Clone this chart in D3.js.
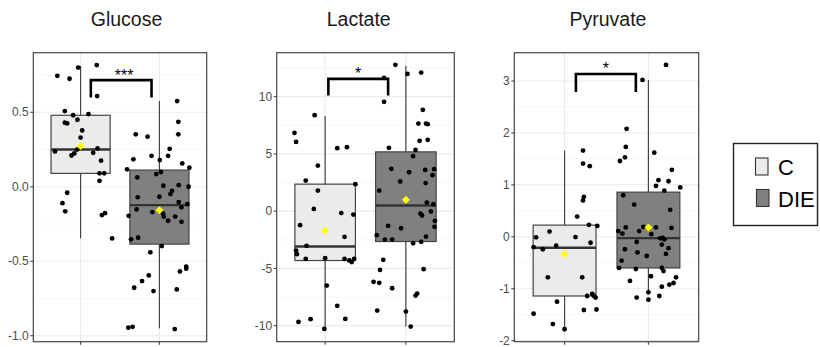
<!DOCTYPE html>
<html><head><meta charset="utf-8">
<script src="https://cdn.jsdelivr.net/npm/d3@7"></script>
<style>body{margin:0;background:#fff} svg{display:block} text{font-family:"Liberation Sans",Arial,sans-serif}</style>
</head><body><svg id="c" width="820" height="347"></svg>
<script>
const categories = ["C", "DIE"];
const panelTitles = ["Glucose", "Lactate", "Pyruvate"];
const legendLabels = ["C", "DIE"];

// y tick labels per panel
const glucoseTicks = [-1.0, -0.5, 0.0, 0.5];
const lactateTicks = [-10, -5, 0, 5, 10];
const pyruvateTicks = [-2, -1, 0, 1, 2, 3];

// box stats: [lower whisker, Q1, median, Q3, upper whisker]
const glucoseBoxC = [-0.346, 0.09, 0.25, 0.48, 0.81];
const glucoseBoxDIE = [-0.95, -0.385, -0.123, 0.112, 0.575];
const lactateBoxC = [-10.37, -4.31, -3.09, 2.36, 8.32];
const lactateBoxDIE = [-10.08, -2.65, 0.49, 5.18, 12.69];
const pyruvateBoxC = [-1.78, -1.14, -0.21, 0.225, 1.66];
const pyruvateBoxDIE = [-1.06, -0.60, -0.025, 0.86, 3.02];

// group means [C, DIE]
const glucoseMeans = [0.273, -0.157];
const lactateMeans = [-1.69, 0.99];
const pyruvateMeans = [-0.33, 0.18];

// significance labels
const glucoseSig = "***";
const lactateSig = "*";
const pyruvateSig = "*";
// bracket: [from (category units), to, top value, leg-end value]
const glucoseBracket = [0.13, 0.90, 0.716, 0.60];
const lactateBracket = [0.04, 0.78, 11.55, 10.1];
const pyruvateBracket = [0.135, 0.85, 3.135, 2.79];

// observations: [jitter (category units), value]
const glucoseC = [[-0.295,0.745],[-0.03,0.80],[-0.14,0.725],[0.205,0.817],[0.21,0.609],[-0.20,0.508],[-0.20,0.43],[-0.17,0.425],[-0.095,0.48],[-0.04,0.45],[0.10,0.488],[0.02,0.378],[0,0.33],[-0.325,0.237],[-0.045,0.25],[-0.08,0.224],[-0.115,0.21],[0.16,0.228],[0.215,0.258],[0.26,0.175],[0.24,0.09],[0.30,0.09],[0.24,0.04],[-0.17,-0.04],[-0.23,-0.11],[-0.195,-0.165],[0.27,-0.19],[0.31,-0.177],[0.40,-0.347]];
const glucoseDIE = [[0.225,0.575],[0.24,0.436],[0.24,0.352],[-0.30,0.352],[-0.15,0.336],[0.13,0.255],[-0.10,0.208],[0.11,0.208],[-0.33,0.184],[0.005,0.179],[0.29,0.157],[-0.41,0.117],[0.38,0.128],[0.02,0.099],[-0.04,0.085],[-0.28,0.063],[0.05,0.007],[0.245,0.011],[0.37,0.0],[0.16,-0.027],[0.14,-0.049],[0,-0.067],[-0.275,-0.071],[0.245,-0.103],[0.355,-0.116],[0.28,-0.138],[-0.29,-0.152],[-0.09,-0.17],[0.045,-0.179],[0.055,-0.2],[0.2,-0.2],[-0.39,-0.195],[0.11,-0.228],[0.28,-0.235],[-0.36,-0.353],[-0.27,-0.342],[0.03,-0.398],[-0.115,-0.44],[0.34,-0.537],[0.34,-0.55],[0.26,-0.568],[-0.135,-0.595],[-0.22,-0.633],[-0.32,-0.678],[-0.075,-0.70],[0.22,-0.689],[-0.395,-0.946],[-0.34,-0.94],[0.195,-0.955]];
const lactateC = [[-0.38,6.84],[-0.36,6.05],[-0.13,8.38],[-0.09,3.98],[0.15,5.5],[0.27,5.59],[-0.24,2.67],[0.375,2.36],[-0.09,1.8],[-0.14,0.2],[0.2,-0.17],[0.35,-0.3],[-0.31,-1.22],[0.24,-2.24],[-0.23,-3.03],[-0.36,-3.44],[-0.35,-3.76],[-0.24,-4.17],[0,-4.11],[0.24,-4.17],[0.30,-4.31],[0.33,-4.45],[0.36,-4.17],[0.02,-6.5],[0.15,-8.27],[-0.33,-9.67],[-0.18,-9.43],[0.25,-9.41],[-0.01,-10.28]];
const lactateDIE = [[-0.13,12.78],[0.02,11.99],[0.19,12.1],[-0.27,11.64],[-0.27,9.55],[0.21,8.85],[0.155,7.65],[0.25,7.65],[0.27,7.6],[0.17,6.14],[0.27,6.23],[-0.21,5.53],[0.12,5.35],[0.09,4.8],[-0.18,3.7],[0.04,3.4],[0.24,3.6],[0.35,3.67],[0.33,3.14],[-0.07,2.59],[0.245,2.45],[-0.33,1.8],[0.26,0.75],[0.34,0.61],[0.31,-0.03],[0.18,-0.21],[0.2,-0.38],[0.36,-0.85],[-0.22,-1.28],[-0.06,-1.49],[0.355,-1.37],[-0.36,-2.1],[-0.26,-2.48],[-0.17,-2.48],[0.25,-2.22],[0.09,-2.8],[0.19,-2.68],[-0.28,-4.25],[-0.32,-5.13],[0.22,-5.07],[-0.40,-6.17],[-0.33,-6.26],[-0.17,-6.73],[0.14,-7.2],[0.12,-7.37],[-0.355,-8.68],[0,-8.77],[0.06,-10.08]];
const pyruvateC = [[0.22,1.66],[0.22,1.41],[0.30,1.36],[0.23,0.77],[0.22,0.70],[0.15,0.39],[0.29,0.23],[0.39,0.21],[-0.34,-0.01],[-0.18,0.10],[0.13,-0.005],[-0.37,-0.20],[-0.26,-0.24],[-0.10,-0.17],[0.31,-0.115],[-0.20,-0.78],[0.21,-0.78],[0.27,-1.14],[0.33,-1.10],[0.35,-1.14],[0.37,-1.17],[-0.09,-1.25],[0.23,-1.41],[0.38,-1.40],[-0.37,-1.48],[-0.14,-1.68],[0,-1.78]];
const pyruvateDIE = [[0.21,3.31],[-0.07,3.02],[-0.26,2.08],[-0.27,1.73],[-0.28,1.53],[-0.34,1.46],[0.07,1.62],[0.28,1.29],[0.12,1.09],[0.24,1.07],[0.09,0.98],[0.38,0.95],[0.19,0.89],[-0.30,0.80],[-0.17,0.62],[0.26,0.52],[-0.36,0.11],[-0.31,0.06],[-0.27,0.18],[-0.11,0.11],[0.035,0.05],[0.09,0.18],[0.275,0.17],[-0.06,0.19],[0.14,-0.03],[0.17,-0.02],[0.19,-0.05],[-0.28,-0.24],[-0.14,-0.10],[-0.13,-0.30],[-0.02,-0.37],[0.16,-0.15],[0.24,-0.22],[0.21,-0.33],[-0.32,-0.46],[-0.35,-0.60],[-0.15,-0.62],[0.16,-0.60],[0.18,-0.66],[-0.22,-0.85],[0.03,-0.76],[0.33,-0.78],[0.30,-0.89],[0.25,-0.92],[0.16,-0.96],[0,-1.07],[-0.14,-1.17],[0,-1.21],[0.13,-1.14]];

const fills = ["#ebebeb", "#808080"];
const svg = d3.select("#c");
const yTop = 52.7, yBot = 341.7;

const panels = [
  {x0: 33.3, x1: 206.7, titleX: 126.5, domain: [-1.04, 0.90], ticks: glucoseTicks, fmt: d => d.toFixed(1),
   boxes: [glucoseBoxC, glucoseBoxDIE], means: glucoseMeans, pts: [glucoseC, glucoseDIE], br: glucoseBracket, sig: glucoseSig},
  {x0: 276.7, x1: 454.3, titleX: 358.7, domain: [-11.40, 13.84], ticks: lactateTicks, fmt: d => String(d),
   boxes: [lactateBoxC, lactateBoxDIE], means: lactateMeans, pts: [lactateC, lactateDIE], br: lactateBracket, sig: lactateSig},
  {x0: 514.3, x1: 698.7, titleX: 608, domain: [-2.02, 3.545], ticks: pyruvateTicks, fmt: d => String(d),
   boxes: [pyruvateBoxC, pyruvateBoxDIE], means: pyruvateMeans, pts: [pyruvateC, pyruvateDIE], br: pyruvateBracket, sig: pyruvateSig}
];

panels.forEach((p, i) => {
  const x = d3.scaleLinear().domain([-0.6, 1.6]).range([p.x0, p.x1]);
  const y = d3.scaleLinear().domain(p.domain).range([yBot, yTop]);
  const g = svg.append("g");
  const unit = x(1) - x(0);

  // title
  svg.append("text").attr("x", p.titleX).attr("y", 26).attr("text-anchor", "middle")
    .attr("font-size", 19.5).attr("fill", "#1a1a1a").text(panelTitles[i]);

  // grid
  const step = p.ticks[1] - p.ticks[0];
  const minors = [];
  for (let t = p.ticks[0] - step / 2; t <= p.ticks[p.ticks.length - 1] + step / 2 + 1e-9; t += step) {
    if (t > p.domain[0] && t < p.domain[1]) minors.push(t);
  }
  g.selectAll(".mn").data(minors).join("line")
    .attr("x1", p.x0).attr("x2", p.x1).attr("y1", d => y(d)).attr("y2", d => y(d))
    .attr("stroke", "#f2f2f2").attr("stroke-width", 0.6);
  g.selectAll(".mj").data(p.ticks).join("line")
    .attr("x1", p.x0).attr("x2", p.x1).attr("y1", d => y(d)).attr("y2", d => y(d))
    .attr("stroke", "#ebebeb").attr("stroke-width", 1.1);
  g.selectAll(".vx").data(categories).join("line")
    .attr("x1", (d, k) => x(k)).attr("x2", (d, k) => x(k)).attr("y1", yTop).attr("y2", yBot)
    .attr("stroke", "#ebebeb").attr("stroke-width", 1.1);

  // boxes
  p.boxes.forEach((b, k) => {
    const cx = x(k), hw = unit * 0.375;
    g.append("line").attr("x1", cx).attr("x2", cx).attr("y1", y(b[0])).attr("y2", y(b[4]))
      .attr("stroke", "#444").attr("stroke-width", 1.2);
    g.append("rect").attr("x", cx - hw).attr("width", 2 * hw).attr("y", y(b[3])).attr("height", y(b[1]) - y(b[3]))
      .attr("fill", fills[k]).attr("stroke", "#444").attr("stroke-width", 1.2);
    g.append("line").attr("x1", cx - hw).attr("x2", cx + hw).attr("y1", y(b[2])).attr("y2", y(b[2]))
      .attr("stroke", "#333").attr("stroke-width", 2.4);
  });

  // points
  p.pts.forEach((arr, k) => {
    g.selectAll(null).data(arr).join("circle")
      .attr("cx", d => x(k + d[0])).attr("cy", d => y(d[1])).attr("r", 2.4).attr("fill", "#000");
  });

  // means (rotated square, like ggplot shape 18)
  g.selectAll(null).data(p.means).join("path")
    .attr("d", d3.symbol(d3.symbolSquare, 32))
    .attr("transform", (d, k) => `translate(${x(k)},${y(d)}) rotate(45)`).attr("fill", "#ffff00");

  // bracket
  const br = p.br;
  g.append("path")
    .attr("d", `M${x(br[0])},${y(br[3])}V${y(br[2])}H${x(br[1])}V${y(br[3])}`)
    .attr("fill", "none").attr("stroke", "#000").attr("stroke-width", 2.6);
  g.append("text").attr("x", (x(br[0]) + x(br[1])) / 2 + (p.sig.length > 1 ? 3 : 0)).attr("y", y(br[2]) + 0.5)
    .attr("text-anchor", "middle").attr("font-size", 16).attr("fill", "#000").text(p.sig);

  // frame
  g.append("rect").attr("x", p.x0).attr("y", yTop).attr("width", p.x1 - p.x0).attr("height", yBot - yTop)
    .attr("fill", "none").attr("stroke", "#444").attr("stroke-width", 1.2);

  // y axis ticks
  g.selectAll(".yt").data(p.ticks).join("line")
    .attr("x1", p.x0 - 3).attr("x2", p.x0).attr("y1", d => y(d)).attr("y2", d => y(d))
    .attr("stroke", "#444").attr("stroke-width", 1.1);
  g.selectAll(".yl").data(p.ticks).join("text")
    .attr("x", p.x0 - 4.5).attr("y", d => y(d)).attr("dy", "0.35em").attr("text-anchor", "end")
    .attr("font-size", 12).attr("fill", "#4d4d4d").text(p.fmt);
  // x axis ticks (no labels)
  g.selectAll(".xt").data(categories).join("line")
    .attr("x1", (d, k) => x(k)).attr("x2", (d, k) => x(k)).attr("y1", yBot).attr("y2", yBot + 3)
    .attr("stroke", "#444").attr("stroke-width", 1.1);
});

// legend
const lg = svg.append("g");
lg.append("rect").attr("x", 733.5).attr("y", 143.5).attr("width", 84).attr("height", 82)
  .attr("fill", "#fff").attr("stroke", "#222").attr("stroke-width", 1.4);
legendLabels.forEach((l, k) => {
  const yy = 158 + k * 31.5;
  lg.append("rect").attr("x", 755.5 + k).attr("y", yy).attr("width", 12.5).attr("height", 17)
    .attr("fill", fills[k]).attr("stroke", "#333").attr("stroke-width", 1.1);
  lg.append("text").attr("x", 778).attr("y", yy + 17).attr("font-size", 22).attr("fill", "#000").text(l);
});
</script></body></html>
